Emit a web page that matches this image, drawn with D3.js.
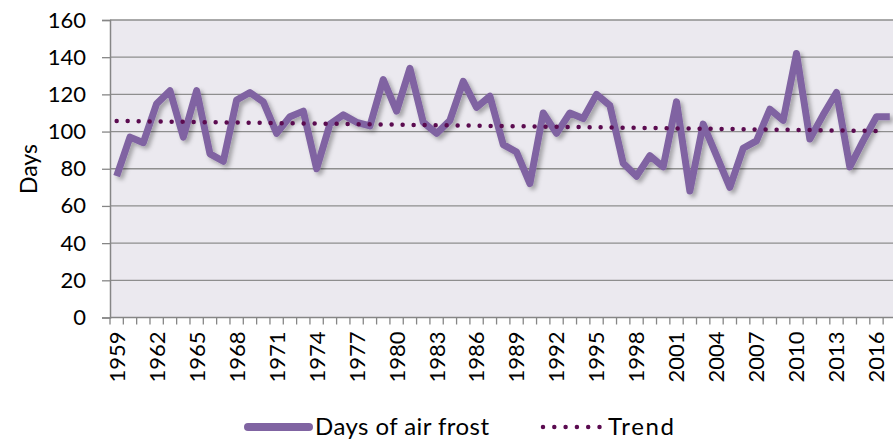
<!DOCTYPE html>
<html>
<head>
<meta charset="utf-8">
<script src="https://cdn.jsdelivr.net/npm/d3@7"></script>
<style>
  html, body { margin: 0; padding: 0; background: #ffffff; }
  svg { display: block; font-family: Lato, "Open Sans", sans-serif; }
</style>
</head>
<body>
<svg id="chart" width="893" height="442"></svg>
<script>
const years = [1959,1960,1961,1962,1963,1964,1965,1966,1967,1968,1969,1970,1971,1972,1973,1974,1975,1976,1977,1978,1979,1980,1981,1982,1983,1984,1985,1986,1987,1988,1989,1990,1991,1992,1993,1994,1995,1996,1997,1998,1999,2000,2001,2002,2003,2004,2005,2006,2007,2008,2009,2010,2011,2012,2013,2014,2015,2016,2017];
const frostDays = [76,97,94,115,122,97,122,88,84,117,121,116,99,108,111,80,104,109,105,103,128,111,134,105,99,106,127,113,119,93,89,72,110,99,110,107,120,114,83,76,87,81,116,68,104,87,70,91,95,112,106,142,96,109,121,81,95,108,108];
const trendYears = [1959, 2016];
const trendValues = [105.7, 100.3];
const tickYears = [1959,1962,1965,1968,1971,1974,1977,1980,1983,1986,1989,1992,1995,1998,2001,2004,2007,2010,2013,2016];
const yTicks = [0,20,40,60,80,100,120,140,160];
const seriesNames = ["Days of air frost", "Trend"];
const yTitle = "Days";

(function () {
const svg = d3.select("#chart");
const mLeft = 110, mTop = 20, mBottom = 317.5;
const bandW = 13.33;
const mRight = mLeft + bandW * years.length;

const x = d3.scaleBand().domain(years).range([mLeft, mRight]).paddingInner(0).paddingOuter(0);
const xc = d => x(d) + x.bandwidth() / 2;
const y = d3.scaleLinear().domain([0, 160]).range([mBottom, mTop]);

const defs = svg.append("defs");
const f = defs.append("filter").attr("id", "shadow")
  .attr("x", "-5%").attr("y", "-20%").attr("width", "110%").attr("height", "140%");
f.append("feDropShadow").attr("dx", 3).attr("dy", 3).attr("stdDeviation", 2)
  .attr("flood-color", "#000").attr("flood-opacity", 0.3);

// plot background
svg.append("rect").attr("x", mLeft).attr("y", mTop)
  .attr("width", mRight - mLeft).attr("height", mBottom - mTop)
  .attr("fill", "#EBE9EF");

// gridlines
svg.append("g").selectAll("line").data(yTicks.filter(v => v > 0)).join("line")
  .attr("x1", mLeft).attr("x2", mRight)
  .attr("y1", d => y(d)).attr("y2", d => y(d))
  .attr("stroke", "#8E8E8E").attr("stroke-width", 1.3);

// y axis
const yAxis = svg.append("g").attr("transform", `translate(${mLeft},0)`)
  .call(d3.axisLeft(y).tickValues(yTicks).tickSize(8).tickPadding(16).tickFormat(d3.format("d")));
yAxis.select(".domain").attr("stroke", "#868686").attr("stroke-width", 1.5);
yAxis.selectAll(".tick line").attr("stroke", "#868686").attr("stroke-width", 1.3);
yAxis.selectAll(".tick text").attr("font-size", 22).attr("fill", "#000")
  .attr("font-family", "Lato, 'Open Sans', sans-serif");

// x axis: ticks at band boundaries
const xAxisG = svg.append("g");
xAxisG.append("line").attr("x1", mLeft).attr("x2", mRight).attr("y1", mBottom).attr("y2", mBottom)
  .attr("stroke", "#868686").attr("stroke-width", 1.5);
xAxisG.selectAll("line.tk").data(years.concat(["end"])).join("line").attr("class", "tk")
  .attr("x1", d => d === "end" ? mRight : x(d)).attr("x2", d => d === "end" ? mRight : x(d))
  .attr("y1", mBottom).attr("y2", mBottom + 7)
  .attr("stroke", "#868686").attr("stroke-width", 1.3);
xAxisG.selectAll("text").data(tickYears).join("text")
  .attr("transform", d => `translate(${xc(d)},${mBottom + 14}) rotate(-90)`)
  .attr("text-anchor", "end").attr("dy", "0.36em")
  .attr("font-size", 22).attr("fill", "#000")
  .text(d => d);

// y title
svg.append("text").attr("transform", "translate(29,169) rotate(-90)")
  .attr("text-anchor", "middle").attr("dy", "0.35em")
  .attr("font-size", 23).attr("fill", "#000").text(yTitle);

// series line
const line = d3.line().x((d, i) => xc(years[i])).y(d => y(d));
svg.append("path").datum(frostDays).attr("d", line)
  .attr("fill", "none").attr("stroke", "#8064A2").attr("stroke-width", 7)
  .attr("stroke-linejoin", "round").attr("stroke-linecap", "butt")
  .attr("filter", "url(#shadow)");

// trend
const tline = d3.line().x((d, i) => xc(trendYears[i])).y(d => y(d));
svg.append("path").datum(trendValues).attr("d", tline)
  .attr("fill", "none").attr("stroke", "#5B0B50").attr("stroke-width", 4.5)
  .attr("stroke-linecap", "round").attr("stroke-dasharray", "0 11");

// legend
const lg = svg.append("g");
lg.append("line").attr("x1", 248).attr("x2", 309).attr("y1", 427).attr("y2", 427)
  .attr("stroke", "#8064A2").attr("stroke-width", 8).attr("stroke-linecap", "round");
lg.append("text").attr("x", 315).attr("y", 435).attr("font-size", 24).attr("fill", "#000")
  .attr("textLength", 174).attr("lengthAdjust", "spacing")
  .text(seriesNames[0]);
lg.append("line").attr("x1", 543).attr("x2", 600).attr("y1", 427).attr("y2", 427)
  .attr("stroke", "#5B0B50").attr("stroke-width", 4.5)
  .attr("stroke-linecap", "round").attr("stroke-dasharray", "0 11.3");
lg.append("text").attr("x", 608).attr("y", 435).attr("font-size", 24).attr("fill", "#000")
  .attr("textLength", 66).attr("lengthAdjust", "spacing")
  .text(seriesNames[1]);
})();
</script>
</body>
</html>
